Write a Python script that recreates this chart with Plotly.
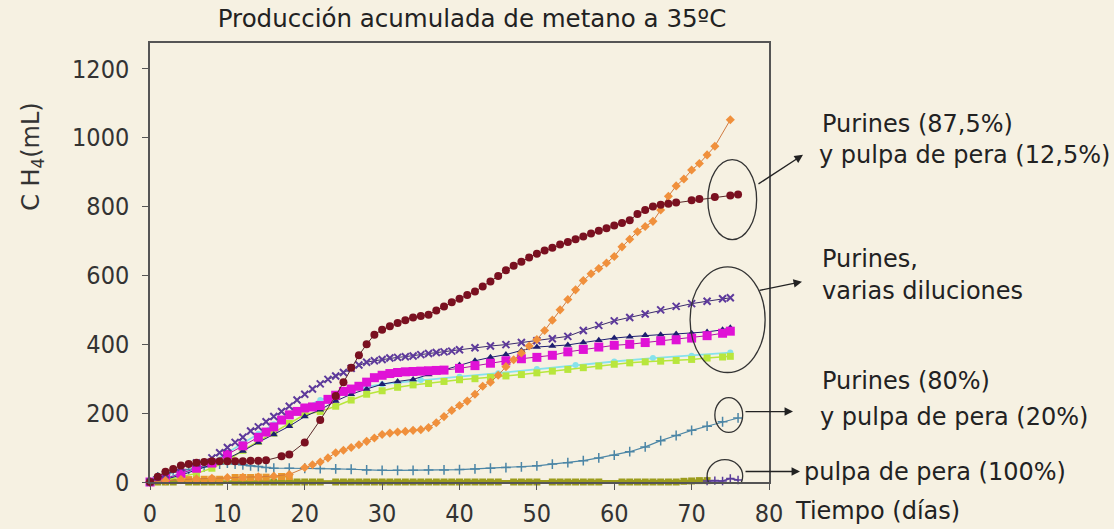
import plotly.graph_objects as go

# ---------------- data ----------------
d_maroon = [0, 1, 2, 3, 4, 5, 6, 7, 8, 9, 10, 11, 12, 13, 14, 15, 17, 18, 20, 22, 24, 25, 26, 27, 28, 29, 30, 31, 32,
            33, 34, 35, 36, 37, 38, 39, 40, 41, 42, 43, 44, 45, 46, 47, 48, 49, 50, 51, 52, 53, 54, 55, 56, 57, 58,
            59, 60, 61, 62, 63, 64, 65, 66, 67, 68, 70, 71, 73, 75, 76]
v_maroon = [0, 15, 30, 38, 48, 52, 56, 58, 60, 60, 60, 60, 60, 62, 62, 63, 75, 80, 115, 180, 250, 290, 332, 368, 400,
            428, 442, 452, 462, 470, 478, 482, 486, 498, 510, 522, 532, 543, 553, 568, 582, 598, 615, 628, 640, 652,
            663, 672, 680, 690, 697, 705, 713, 722, 730, 737, 745, 752, 760, 778, 790, 800, 805, 808, 812, 818, 822,
            828, 832, 835]

d_orange = [0, 2, 4, 6, 8, 10, 12, 14, 16, 18, 20, 21, 22, 23, 24, 25, 26, 27, 28, 29, 30, 31, 32, 33, 34, 35, 36,
            37, 38, 39, 40, 41, 42, 43, 44, 45, 46, 47, 48, 49, 50, 51, 52, 53, 54, 55, 56, 57, 58, 59, 60, 61, 62,
            63, 64, 65, 66, 67, 68, 69, 70, 71, 72, 73, 75]
v_orange = [0, 4, 7, 9, 11, 13, 14, 15, 17, 22, 42, 50, 58, 70, 85, 92, 100, 108, 118, 128, 138, 142, 145, 147, 150,
            152, 158, 172, 190, 208, 222, 235, 255, 278, 290, 310, 335, 355, 375, 395, 414, 440, 470, 500, 530, 558,
            585, 605, 620, 636, 655, 683, 705, 727, 742, 757, 790, 830, 860, 880, 906, 925, 950, 975, 1052]

d_purple = [0, 2, 4, 6, 8, 9, 10, 11, 12, 13, 14, 15, 16, 17, 18, 19, 20, 21, 22, 23, 24, 25, 26, 27, 28, 29, 30, 31,
            32, 33, 34, 35, 36, 37, 38, 39, 40, 42, 44, 46, 48, 50, 52, 54, 56, 58, 60, 62, 64, 66, 68, 70, 72, 74, 75]
v_purple = [0, 22, 42, 55, 70, 85, 100, 115, 130, 148, 160, 175, 190, 205, 220, 238, 255, 270, 285, 298, 308, 318,
            330, 340, 348, 352, 356, 360, 362, 364, 366, 370, 373, 376, 378, 380, 384, 390, 395, 399, 405, 410, 416,
            423, 440, 455, 468, 478, 488, 500, 510, 518, 525, 532, 535]

d_magenta = [0, 2, 4, 6, 8, 10, 12, 14, 15, 16, 17, 18, 19, 20, 21, 22, 23, 24, 25, 26, 27, 28, 29, 30, 31, 32, 33,
             34, 35, 36, 37, 38, 40, 42, 44, 46, 48, 50, 52, 54, 56, 58, 60, 62, 64, 66, 68, 70, 72, 74, 75]
v_magenta = [0, 10, 25, 40, 55, 80, 105, 130, 145, 160, 180, 195, 205, 215, 218, 222, 240, 252, 263, 270, 278, 290,
             303, 310, 315, 318, 320, 321, 322, 323, 324, 325, 330, 338, 345, 352, 358, 362, 368, 378, 385, 392, 397,
             400, 405, 410, 413, 418, 425, 432, 438]

d_navy = [0, 2, 4, 6, 8, 10, 12, 14, 16, 18, 20, 22, 24, 26, 28, 30, 32, 34, 36, 38, 40, 42, 44, 46, 48, 50, 52, 54,
          56, 58, 60, 62, 64, 66, 68, 70, 72, 74, 75]
v_navy = [0, 8, 20, 35, 50, 68, 90, 115, 138, 162, 190, 210, 235, 255, 270, 284, 292, 298, 312, 325, 340, 352, 362,
          370, 382, 392, 395, 398, 405, 412, 418, 422, 426, 428, 430, 432, 436, 442, 448]

d_green = [0, 2, 4, 6, 8, 10, 12, 14, 16, 18, 20, 22, 24, 26, 28, 30, 32, 34, 36, 38, 40, 42, 44, 46, 48, 50, 52, 54,
           56, 58, 60, 62, 64, 66, 68, 70, 72, 74, 75]
v_green = [0, 5, 15, 25, 40, 62, 92, 118, 142, 170, 196, 205, 220, 238, 255, 265, 275, 282, 286, 292, 297, 300, 304,
           308, 312, 317, 322, 327, 332, 337, 342, 346, 349, 351, 353, 356, 360, 363, 365]

d_cyan = [0, 2, 4, 6, 8, 10, 12, 14, 16, 18, 20, 22, 24, 26, 28, 30, 35, 40, 45, 50, 55, 60, 65, 70, 75]
v_cyan = [0, 12, 24, 40, 58, 85, 112, 140, 168, 195, 218, 238, 254, 266, 276, 284, 296, 306, 316, 328, 340, 350, 360,
          367, 376]

d_steel = [0, 1, 2, 3, 4, 5, 6, 7, 8, 9, 10, 11, 12, 13, 14, 15, 16, 18, 20, 22, 24, 26, 28, 30, 32, 34, 36, 38, 40,
           42, 44, 46, 48, 50, 52, 54, 56, 58, 60, 62, 64, 66, 68, 70, 72, 74, 76]
v_steel = [0, 15, 22, 28, 33, 36, 40, 44, 48, 52, 55, 52, 50, 47, 45, 42, 40, 40, 40, 39, 38, 37, 35, 34, 34, 34, 35,
           35, 36, 38, 40, 42, 44, 47, 52, 56, 62, 70, 78, 88, 102, 120, 135, 150, 162, 175, 186]

d_olive = [0, 1, 2, 3, 5, 6, 7, 8, 9, 11, 12, 13, 14, 15, 16, 17, 18, 19, 20, 21, 22, 24, 25, 26, 27, 28, 29, 30, 31,
           32, 33, 34, 35, 36, 37, 38, 39, 40, 41, 42, 43, 44, 45, 47, 48, 49, 50, 52, 53, 54, 55, 56, 57, 58, 61,
           62, 63, 64, 65, 66, 67, 68, 69, 70, 71, 72]
v_olive = [0, 0, 0, 0, 0, 0, 0, 0, 0, 0, 0, 0, 0, 0, 0, 0, 0, 0, 0, 0, 0, 0, 0, 0, 0, 0, 0, 0, 0, 0, 0, 0, 0, 0, 0,
           0, 0, 0, 0, 0, 0, 0, 0, 0, 0, 0, 0, 0, 0, 0, 0, 0, 0, 0, 0, 0, 0, 0, 0, 0, 0, 0, 2, 3, 4, 4]

d_osq = [4, 5, 6, 7, 8, 9, 11, 12, 13, 14, 15, 17, 18]
v_osq = [6, 7, 8, 8, 8, 8, 13, 13, 13, 14, 14, 16, 16]

d_p100 = [72, 73, 74, 75, 76]
v_p100 = [3, 4, 3, 10, 6]

x_ticks = [0, 10, 20, 30, 40, 50, 60, 70, 80]
y_ticks = [0, 200, 400, 600, 800, 1000, 1200]

title_text = "Producción acumulada de metano a 35ºC"
y_title = "C H<sub>4</sub>(mL)"
x_title = "Tiempo (días)"

# ---------------- figure ----------------
BG = "#F6F1E2"
fig = go.Figure()


def add(x, y, color, symbol, size, lcolor=None, lwidth=1, mlw=0):
    fig.add_trace(go.Scatter(
        x=x, y=y, mode="lines+markers", cliponaxis=False,
        line=dict(color=lcolor or color, width=lwidth),
        marker=dict(color=color, symbol=symbol, size=size, line=dict(width=mlw, color=color)),
        showlegend=False))


add(d_olive, v_olive, "#9C9C1C", "square", 7, "#9C9C1C", 3)
add(d_osq, v_osq, "#E8962E", "square", 7, "#E8962E", 2)
add(d_p100, v_p100, "#5A3C9A", "cross-thin", 6, "#5A3C9A", 1.5, 1.5)
add(d_steel, v_steel, "#4C86A6", "cross-thin", 7, "#4C86A6", 1.2, 1.5)
add(d_cyan, v_cyan, "#86E2EC", "circle", 6, "#86E2EC", 1.8)
add(d_green, v_green, "#B8E63C", "square", 7, "#B8E63C", 1.5)
add(d_navy, v_navy, "#1E1E70", "triangle-up", 7, "#1E1E70", 1)
add(d_magenta, v_magenta, "#E012D6", "square", 9, "#B010A8", 1)
add(d_purple, v_purple, "#5E3A9C", "x-thin", 7, "#3A2A6C", 1, 2)
add(d_orange, v_orange, "#F0903C", "diamond", 7, "#D07A40", 1)
add(d_maroon, v_maroon, "#7A1020", "circle", 8, "#5A2A2A", 1)

# annotation geometry in pixels -> paper
L, R, T, B = 150, 769, 43, 482.5


def px(xp):
    return (xp - L) / (R - L)


def py(yp):
    return (B - yp) / (B - T)


TXT = dict(family="DejaVu Sans, Verdana, sans-serif", size=24, color="#222222")
labels = [
    ("Purines (87,5%)", 820, 124),
    ("y pulpa de pera (12,5%)", 817, 155),
    ("Purines,", 820, 259),
    ("varias diluciones", 820, 291),
    ("Purines (80%)", 820, 381),
    ("y pulpa de pera (20%)", 818, 417),
    ("pulpa de pera (100%)", 802, 472),
    (x_title, 793, 512),
]
for t, xx, yy in labels:
    fig.add_annotation(text=t, x=px(xx), y=py(yy), xref="paper", yref="paper",
                       xanchor="left", yanchor="middle", showarrow=False, font=TXT)

arrows = [((803, 155), (757, 185)), ((802, 282), (758, 291)),
          ((793, 412), (744, 412)), ((800, 472), (744, 472))]
for (hx, hy), (tx, ty) in arrows:
    fig.add_annotation(text="", x=px(hx), y=py(hy), xref="paper", yref="paper",
                       ax=tx - hx, ay=ty - hy, showarrow=True, arrowhead=2, arrowsize=1.3,
                       arrowwidth=1.3, arrowcolor="#222222")

fig.add_annotation(text=y_title, x=px(33), y=py(157), xref="paper", yref="paper",
                   xanchor="center", yanchor="middle", textangle=-90, showarrow=False,
                   font=dict(family="DejaVu Sans, Verdana, sans-serif", size=24, color="#333333"))

circles = [(72.1, 704, 78.4, 936), (69.8, 318, 79.5, 625), (73.0, 144, 76.6, 245), (72.0, -30, 76.6, 65)]
for x0, y0, x1, y1 in circles:
    fig.add_shape(type="circle", xref="x", yref="y", x0=x0, y0=y0, x1=x1, y1=y1,
                  line=dict(color="#333333", width=1.3), layer="above")

AX = dict(showgrid=False, zeroline=False, showline=True, linecolor="#555555", linewidth=1.5,
          mirror=True, ticks="outside", ticklen=6, tickcolor="#555555", automargin=False,
          tickfont=dict(family="DejaVu Sans Condensed, Liberation Sans Narrow, sans-serif", size=25,
                        color="#333333"))

fig.update_layout(
    width=1114, height=529,
    margin=dict(l=L, r=1114 - R, t=T, b=529 - B),
    paper_bgcolor=BG, plot_bgcolor=BG,
    title=dict(text=title_text, x=472 / 1114, xanchor="center", y=1 - 18 / 529, yanchor="middle",
               font=dict(family="DejaVu Sans, Verdana, sans-serif", size=24.5, color="#222222"),
               automargin=False),
    xaxis=dict(range=[0, 80], tickvals=x_ticks, ticklabelstandoff=2, **AX),
    yaxis=dict(range=[0, 1275], tickvals=y_ticks, ticklabelstandoff=8, **AX),
)

fig.write_html("out.html")
